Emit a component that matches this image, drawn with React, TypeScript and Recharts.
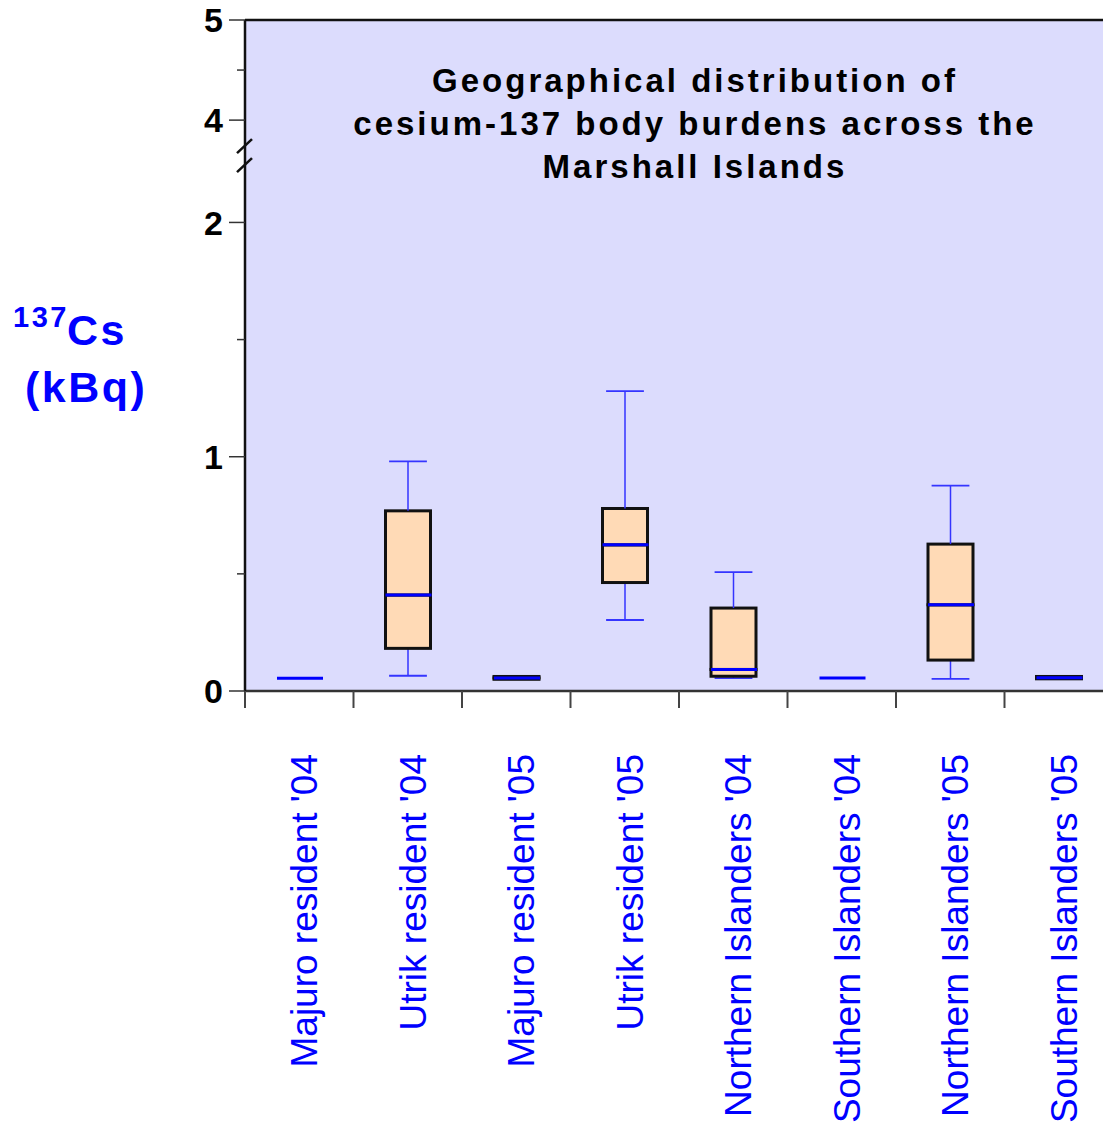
import React from 'react'
import {
  ComposedChart,
  Bar,
  XAxis,
  YAxis,
  CartesianGrid,
  ReferenceLine,
} from 'recharts'

const groups = [
  "Majuro resident '04",
  "Utrik resident '04",
  "Majuro resident '05",
  "Utrik resident '05",
  "Northern Islanders '04",
  "Southern Islanders '04",
  "Northern Islanders '05",
  "Southern Islanders '05",
]

// kBq
const lowWhisker = [0.054, 0.065, 0.05, 0.303, 0.055, 0.055, 0.052, 0.052]
const quartile1 = [0.054, 0.182, 0.05, 0.463, 0.063, 0.055, 0.132, 0.052]
const medians = [0.054, 0.41, 0.056, 0.624, 0.092, 0.055, 0.368, 0.057]
const quartile3 = [0.054, 0.769, 0.062, 0.779, 0.354, 0.055, 0.627, 0.062]
const highWhisker = [0.054, 0.98, 0.062, 1.28, 0.507, 0.055, 0.877, 0.062]

const yTicks = [0, 0.5, 1, 1.5, 2, 4, 4.5, 5]

const titleLines = [
  'Geographical distribution of',
  'cesium-137 body burdens across the',
  'Marshall Islands',
]

// broken y axis: 0..2.3 drawn full scale, 3.68..5 squeezed on top
const BREAK_LOW = 2.3
const BREAK_HIGH = 3.68
const UPPER_RATIO = 100 / 234
const toAxis = (v: number) =>
  v <= BREAK_LOW ? v : BREAK_LOW + (v - BREAK_HIGH) * UPPER_RATIO
const fromAxis = (t: number) =>
  Math.round((t <= BREAK_LOW ? t : BREAK_HIGH + (t - BREAK_LOW) / UPPER_RATIO) * 100) / 100

const data = groups.map((name, i) => ({
  name,
  base: toAxis(lowWhisker[i]),
  lowW: toAxis(quartile1[i]) - toAxis(lowWhisker[i]),
  lowBox: toAxis(medians[i]) - toAxis(quartile1[i]),
  highBox: toAxis(quartile3[i]) - toAxis(medians[i]),
  highW: toAxis(highWhisker[i]) - toAxis(quartile3[i]),
}))

const FONT = '"Liberation Sans", Arial, Helvetica, sans-serif'
const BLUE = '#0000ff'
const WHISKER = '#3535ff'
const BOX_FILL = '#ffdab6'
const BOX_STROKE = '#111111'

const Empty = () => <g />

const LowWhiskerShape = (props: any) => {
  const { x, y, width, height } = props
  if (!(height > 0.5)) return <g />
  const cx = x + width / 2
  const cap = width * 0.42
  return (
    <g>
      <line x1={cx} x2={cx} y1={y} y2={y + height} stroke={WHISKER} strokeWidth={1.5} />
      <line x1={cx - cap} x2={cx + cap} y1={y + height} y2={y + height} stroke={WHISKER} strokeWidth={1.8} />
    </g>
  )
}

const HighWhiskerShape = (props: any) => {
  const { x, y, width, height } = props
  if (!(height > 0.5)) return <g />
  const cx = x + width / 2
  const cap = width * 0.42
  return (
    <g>
      <line x1={cx} x2={cx} y1={y} y2={y + height} stroke={WHISKER} strokeWidth={1.5} />
      <line x1={cx - cap} x2={cx + cap} y1={y} y2={y} stroke={WHISKER} strokeWidth={1.8} />
    </g>
  )
}

const LowerBoxShape = (props: any) => {
  const { x, y, width, height } = props
  if (!(height > 0)) return <g />
  return (
    <rect x={x} y={y} width={width} height={height} fill={BOX_FILL} stroke={BOX_STROKE} strokeWidth={3} />
  )
}

const UpperBoxShape = (props: any) => {
  const { x, y, width, height } = props
  const h = height > 0 ? height : 0
  return (
    <g>
      {h > 0 && (
        <rect x={x} y={y} width={width} height={h} fill={BOX_FILL} stroke={BOX_STROKE} strokeWidth={3} />
      )}
      <line x1={x} x2={x + width + 1} y1={y + h} y2={y + h} stroke={BLUE} strokeWidth={3} />
    </g>
  )
}

const YTick = (props: any) => {
  const { x, y, payload } = props
  const v = fromAxis(payload.value)
  const major = Number.isInteger(v)
  return (
    <g>
      <line x1={x - (major ? 16 : 8)} x2={x} y1={y} y2={y} stroke="#333" strokeWidth={1.5} />
      {major && (
        <text
          x={x - 22}
          y={y}
          dy="0.36em"
          textAnchor="end"
          fontFamily={FONT}
          fontWeight="bold"
          fontSize={34}
          fill="#000"
        >
          {v}
        </text>
      )}
      {v === 4 && (
        <g stroke="#111" strokeWidth={2.5}>
          <line x1={x - 8} y1={y + 33} x2={x + 7} y2={y + 19} />
          <line x1={x - 8} y1={y + 52} x2={x + 7} y2={y + 38} />
        </g>
      )}
    </g>
  )
}

const XTick = (props: any) => {
  const { x, y, payload, index } = props
  const half = payload.offset || 54.25
  const last = index === groups.length - 1
  const lx = x + 18
  const ly = y + 63
  return (
    <g>
      <line x1={x - half} x2={x - half} y1={y} y2={y + 17} stroke="#444" strokeWidth={2} />
      {last && <line x1={x + half} x2={x + half} y1={y} y2={y + 17} stroke="#444" strokeWidth={2} />}
      <text
        x={lx}
        y={ly}
        transform={`rotate(-90, ${lx}, ${ly})`}
        textAnchor="end"
        fontFamily={FONT}
        fontSize={37}
        fill={BLUE}
      >
        {payload.value}
      </text>
    </g>
  )
}

export default function App() {
  const top = toAxis(5)
  return (
    <div
      style={{
        position: 'absolute',
        left: 0,
        top: 0,
        width: 1103,
        height: 1123,
        overflow: 'hidden',
        background: '#fff',
      }}
    >
      <ComposedChart
        width={1120}
        height={1123}
        data={data}
        margin={{ top: 20, right: 7, bottom: 0, left: 0 }}
        barSize={45}
      >
        <CartesianGrid horizontal={false} vertical={false} fill="#dcdcfd" />
        <XAxis
          dataKey="name"
          height={432}
          interval={0}
          tickSize={0}
          tickMargin={0}
          tickLine={false}
          axisLine={{ stroke: '#333', strokeWidth: 2.5 }}
          tick={<XTick />}
        />
        <YAxis
          type="number"
          width={245}
          domain={[0, top]}
          ticks={yTicks.map(toAxis)}
          interval={0}
          tickSize={0}
          tickMargin={0}
          tickLine={false}
          axisLine={{ stroke: '#111', strokeWidth: 2.5 }}
          tick={<YTick />}
        />
        <ReferenceLine y={top} stroke="#111" strokeWidth={2.5} />
        <Bar dataKey="base" stackId="box" shape={<Empty />} isAnimationActive={false} />
        <Bar dataKey="lowW" stackId="box" shape={<LowWhiskerShape />} isAnimationActive={false} />
        <Bar dataKey="lowBox" stackId="box" shape={<LowerBoxShape />} isAnimationActive={false} />
        <Bar dataKey="highBox" stackId="box" shape={<UpperBoxShape />} isAnimationActive={false} />
        <Bar dataKey="highW" stackId="box" shape={<HighWhiskerShape />} isAnimationActive={false} />
      </ComposedChart>
      <svg
        width={1103}
        height={1123}
        style={{ position: 'absolute', left: 0, top: 0, pointerEvents: 'none' }}
      >
        {titleLines.map((line, i) => (
          <text
            key={line}
            x={695}
            y={92 + i * 43}
            textAnchor="middle"
            fontFamily={FONT}
            fontWeight="bold"
            fontSize={33}
            letterSpacing={3}
            fill="#000"
          >
            {line}
          </text>
        ))}
        <g fontFamily={FONT} fontWeight="bold" fill={BLUE} letterSpacing={2.5}>
          <text x={13} y={327} fontSize={29}>137</text>
          <text x={67} y={345} fontSize={43}>Cs</text>
          <text x={25} y={402} fontSize={43}>(kBq)</text>
        </g>
      </svg>
    </div>
  )
}
